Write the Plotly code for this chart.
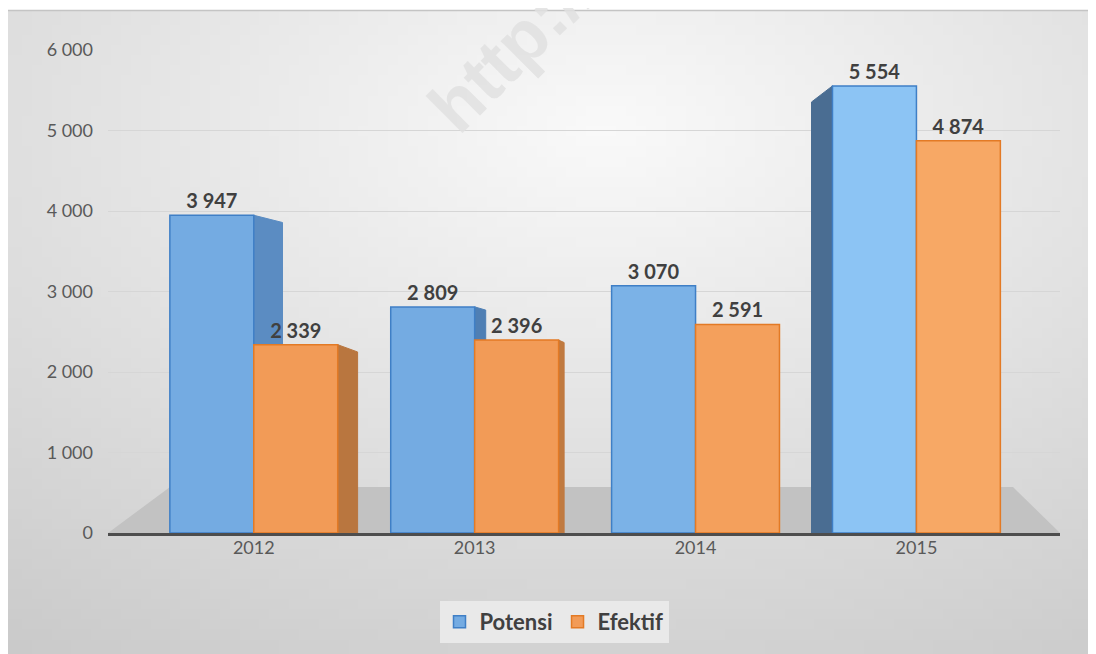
import base64, struct, zlib, math
import plotly.graph_objects as go

years = ["2012", "2013", "2014", "2015"]
potensi = [3947, 2809, 3070, 5554]
efektif = [2339, 2396, 2591, 4874]
y_ticks = [0, 1000, 2000, 3000, 4000, 5000, 6000]

# the page body has an 8px margin, so the figure is drawn 8px in from the top-left
OFF = 8
W, H = 1096 - OFF, 654 - OFF
L, R, T, B = 108 - OFF, 36, 50 - OFF, 121
PW, PH = W - L - R, H - T - B

def px(x):  # page x -> paper
    return (x - OFF - L) / PW

def py(y):  # page y -> paper
    return (H - B - (y - OFF)) / PH

# soft radial gray gradient background (Excel-like chart area)
def gradient_png(w=110, h=64):
    rows = b""
    for j in range(h):
        row = b"\x00"
        for i in range(w):
            u, v = i / (w - 1), j / (h - 1)
            d = math.hypot(u - 0.55, v - 0.18)
            g = int(max(200, min(250, 250 - 48 * d)))
            row += bytes([g, g, g])
        rows += row
    def chunk(tag, data):
        c = struct.pack(">I", len(data)) + tag + data
        return c + struct.pack(">I", zlib.crc32(tag + data) & 0xffffffff)
    png = b"\x89PNG\r\n\x1a\n"
    png += chunk(b"IHDR", struct.pack(">IIBBBBB", w, h, 8, 2, 0, 0, 0))
    png += chunk(b"IDAT", zlib.compress(rows, 9))
    png += chunk(b"IEND", b"")
    return "data:image/png;base64," + base64.b64encode(png).decode()

FONT = "Lato, 'Open Sans', sans-serif"
BARGAP = 0.24
HALF = (1 - BARGAP) / 2  # width of one bar in category units

# pseudo-3D side faces (perspective): derived from the bar values
def side_face(value, left_edge, depth, drop, color):
    x0 = left_edge
    x1 = x0 + depth
    return dict(type="path", xref="x", yref="y", layer="between",
                path=f"M {x0} 0 L {x0} {value} L {x1} {value - drop} L {x1} 0 Z",
                fillcolor=color, line=dict(color=color, width=1))

sides = [
    side_face(potensi[0], 0, 0.13, 90, "#5b8cc2"),
    side_face(efektif[0], HALF, 0.09, 90, "#b9763f"),
    side_face(potensi[1], 1, 0.05, 40, "#4f7fb4"),
    side_face(efektif[1], 1 + HALF, 0.025, 30, "#c07a40"),
    side_face(potensi[3], 3 - HALF, -0.095, 200, "#4a6d92"),
]

potensi_colors = ["#74abe2", "#74abe2", "#7bb2e7", "#8cc4f4"]
efektif_colors = ["#f29b57", "#f29b57", "#f4a05c", "#f7a865"]

fig = go.Figure()
fig.add_trace(go.Bar(
    name="Potensi", x=years, y=potensi,
    marker=dict(color=potensi_colors, line=dict(color="#3f7fc6", width=1.5)),
    texttemplate="%{y:,}", textposition="outside", cliponaxis=False,
    textfont=dict(family=FONT, size=20, color="#404040", weight="bold"),
))
fig.add_trace(go.Bar(
    name="Efektif", x=years, y=efektif,
    marker=dict(color=efektif_colors, line=dict(color="#e37a25", width=1.5)),
    texttemplate="%{y:,}", textposition="outside", cliponaxis=False,
    textfont=dict(family=FONT, size=20, color="#404040", weight="bold"),
))

fig.update_layout(
    width=W, height=H,
    margin=dict(l=L, r=R, t=T, b=B, autoexpand=False),
    paper_bgcolor="white",
    plot_bgcolor="rgba(0,0,0,0)",
    separators=". ",
    barmode="group", bargap=BARGAP, bargroupgap=0,
    font=dict(family=FONT, color="#595959"),
    legend=dict(
        orientation="h", x=px(554), xanchor="center", y=py(622), yanchor="middle",
        bgcolor="#e9e9e9", font=dict(family=FONT, size=22, color="#404040", weight="bold"),
        itemwidth=30, borderwidth=0,
    ),
    images=[dict(
        source=gradient_png(), xref="paper", yref="paper",
        x=px(7), y=py(10), sizex=px(1096) - px(7), sizey=py(10) - py(654),
        xanchor="left", yanchor="top", sizing="stretch", layer="below",
    )],
    shapes=[
        dict(type="path", xref="paper", yref="paper", layer="between",
             path=f"M {px(108)} {py(533)} L {px(1060)} {py(533)} L {px(1013)} {py(487)} L {px(170)} {py(487)} Z",
             fillcolor="#c2c2c2", line=dict(width=0)),
        dict(type="line", xref="paper", yref="paper",
             x0=px(7), x1=px(1096), y0=py(10.5), y1=py(10.5),
             line=dict(color="#c4c4c4", width=1.5)),
    ] + sides,
    annotations=[dict(
        text="http://", xref="paper", yref="paper", x=px(512), y=py(48),
        xanchor="center", yanchor="middle",
        showarrow=False, textangle=-45,
        font=dict(family="Arial, sans-serif", size=72, color="rgba(225,225,225,0.85)", weight="bold"),
    )],
)
fig.update_xaxes(
    type="category", range=[-0.66, 3.65],
    showline=True, linecolor="#4d4d4d", linewidth=3, ticks="",
    tickfont=dict(family=FONT, size=18, color="#595959"),
    showgrid=False, ticklabelstandoff=-4,
)
fig.update_yaxes(
    range=[0, 6000], tickvals=y_ticks, tickformat=",",
    showgrid=True, gridcolor="#d6d6d6", gridwidth=1, zeroline=False,
    tickfont=dict(family=FONT, size=18, color="#595959"),
    ticks="", ticklabelstandoff=14,
)

fig.write_html("out.html")
